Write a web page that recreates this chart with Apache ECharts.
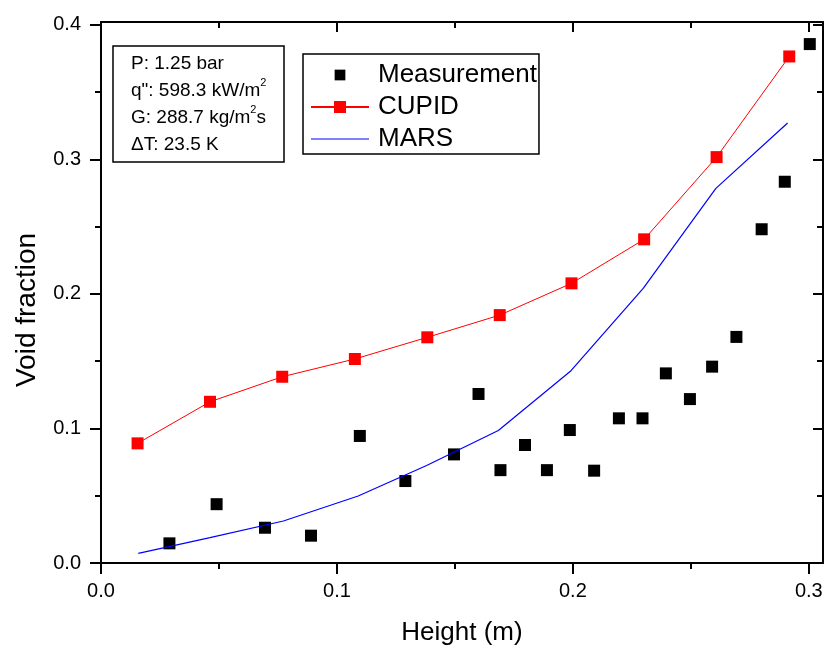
<!DOCTYPE html>
<html>
<head>
<meta charset="utf-8">
<script src="https://cdn.jsdelivr.net/npm/echarts@6/dist/echarts.min.js"></script>
<style>
  html, body { margin: 0; padding: 0; background: #fff; }
  #chart { width: 830px; height: 654px; }
</style>
</head>
<body>
<div id="chart"></div>
<script>
var measX = [0.029, 0.049, 0.0695, 0.089, 0.1097, 0.129, 0.1496, 0.160, 0.1693, 0.1797, 0.189,
  0.1987, 0.209, 0.2195, 0.2295, 0.2394, 0.2496, 0.259, 0.2693, 0.280, 0.2898, 0.3004];
var measY = [0.0146, 0.0437, 0.0262, 0.0203, 0.0944, 0.0609, 0.0807, 0.1256, 0.069, 0.0877, 0.069,
  0.0988, 0.0686, 0.1075, 0.1075, 0.1409, 0.1218, 0.1459, 0.168, 0.248, 0.2833, 0.3856];

var cupidX = [0.0155, 0.0462, 0.0768, 0.1076, 0.1383, 0.169, 0.1994, 0.2302, 0.2609, 0.2917];
var cupidY = [0.0889, 0.1198, 0.1384, 0.1516, 0.1677, 0.1842, 0.2078, 0.2405, 0.3016, 0.3764];

var marsX = [0.0158, 0.0462, 0.0773, 0.109, 0.138, 0.1684, 0.1992, 0.2298, 0.2606, 0.291];
var marsY = [0.0072, 0.0188, 0.0312, 0.0498, 0.0725, 0.0985, 0.1429, 0.204, 0.2784, 0.327];

var xMajor = [0, 0.1, 0.2, 0.3];
var xMinor = [0.05, 0.15, 0.25];
var yMajor = [0, 0.1, 0.2, 0.3, 0.4];
var yMinor = [0.05, 0.15, 0.25, 0.35];

var infoLines = [
  'P: 1.25 bar',
  'q": 598.3 kW/m{sup|2}',
  'G: 288.7 kg/m{sup|2}s',
  '\u0394T: 23.5 K'
];

function zip(xs, ys) {
  return xs.map(function (x, i) { return [x, ys[i]]; });
}

var font = 'Liberation Sans, Arial, sans-serif';

function xAx(pos, ticks, len, inside, main) {
  return {
    type: 'value', position: pos, min: 0, max: 0.306,
    axisLine: { show: main, onZero: false, lineStyle: { color: '#000', width: 2 } },
    axisTick: { show: true, customValues: ticks, length: len, inside: inside, lineStyle: { color: '#000', width: 2 } },
    axisLabel: main && pos === 'bottom' ? {
      customValues: xMajor, margin: 18, color: '#000', fontFamily: font, fontSize: 20,
      formatter: function (v) { return v.toFixed(1); }
    } : { show: false },
    splitLine: { show: false },
    name: main && pos === 'bottom' ? 'Height (m)' : '',
    nameLocation: 'middle', nameGap: 57,
    nameTextStyle: { color: '#000', fontFamily: font, fontSize: 26 }
  };
}

function yAx(pos, ticks, len, inside, main) {
  return {
    type: 'value', position: pos, min: 0, max: 0.402,
    axisLine: { show: main, onZero: false, lineStyle: { color: '#000', width: 2 } },
    axisTick: { show: true, customValues: ticks, length: len, inside: inside, lineStyle: { color: '#000', width: 2 } },
    axisLabel: main && pos === 'left' ? {
      customValues: yMajor, margin: 20, color: '#000', fontFamily: font, fontSize: 20,
      formatter: function (v) { return v.toFixed(1); }
    } : { show: false },
    splitLine: { show: false }
  };
}

var chart = echarts.init(document.getElementById('chart'), null, { renderer: 'canvas' });
chart.setOption({
  animation: false,
  backgroundColor: '#fff',
  grid: { left: 101, right: 7, top: 22, bottom: 91 },
  xAxis: [
    xAx('bottom', xMajor, 11, false, true),
    xAx('bottom', xMinor, 6, false, false),
    xAx('top', xMajor, 10, true, true),
    xAx('top', xMinor, 6, true, false)
  ],
  yAxis: [
    yAx('left', yMajor, 11, false, true),
    yAx('left', yMinor, 6, false, false),
    yAx('right', yMajor, 10, true, true),
    yAx('right', yMinor, 6, true, false)
  ],
  title: {
    left: 113, top: 46,
    text: infoLines.join('\n'),
    padding: [4, 18, 4, 18],
    borderColor: '#000', borderWidth: 1.5,
    textStyle: {
      color: '#000', fontFamily: font, fontSize: 19, fontWeight: 'normal', lineHeight: 27,
      rich: { sup: { fontSize: 11, verticalAlign: 'top', lineHeight: 27, padding: [0, 0, 10, 0] } }
    }
  },
  legend: {
    left: 303, top: 54,
    orient: 'vertical',
    padding: [6, 2, 0, 7],
    itemGap: 2,
    itemWidth: 58, itemHeight: 15,
    symbolKeepAspect: true,
    borderColor: '#000', borderWidth: 1.5,
    textStyle: { color: '#000', fontFamily: font, fontSize: 26, lineHeight: 30, padding: [0, 0, 0, 4] },
    data: [
      { name: 'Measurement', icon: 'path://M0 -2M0 0H10V10H0ZM10 12' },
      { name: 'CUPID' },
      { name: 'MARS', icon: 'path://M0 0H58V1.2H0Z' }
    ]
  },
  graphic: [{
    type: 'text', x: 27, y: 310, rotation: Math.PI / 2,
    style: {
      text: 'Void fraction', fill: '#000', fontFamily: font, fontSize: 28,
      textAlign: 'center', textVerticalAlign: 'middle'
    }
  }],
  series: [
    {
      name: 'Measurement', type: 'scatter',
      data: zip(measX, measY),
      symbol: 'rect', symbolSize: 12,
      itemStyle: { color: '#000', opacity: 1 }
    },
    {
      name: 'CUPID', type: 'line',
      data: zip(cupidX, cupidY),
      symbol: 'rect', symbolSize: 12,
      lineStyle: { color: '#ff0000', width: 1 },
      itemStyle: { color: '#ff0000' }
    },
    {
      name: 'MARS', type: 'line',
      data: zip(marsX, marsY),
      symbol: 'none',
      lineStyle: { color: '#0000ff', width: 1.2 },
      itemStyle: { color: '#0000ff' }
    }
  ]
});
</script>
</body>
</html>
